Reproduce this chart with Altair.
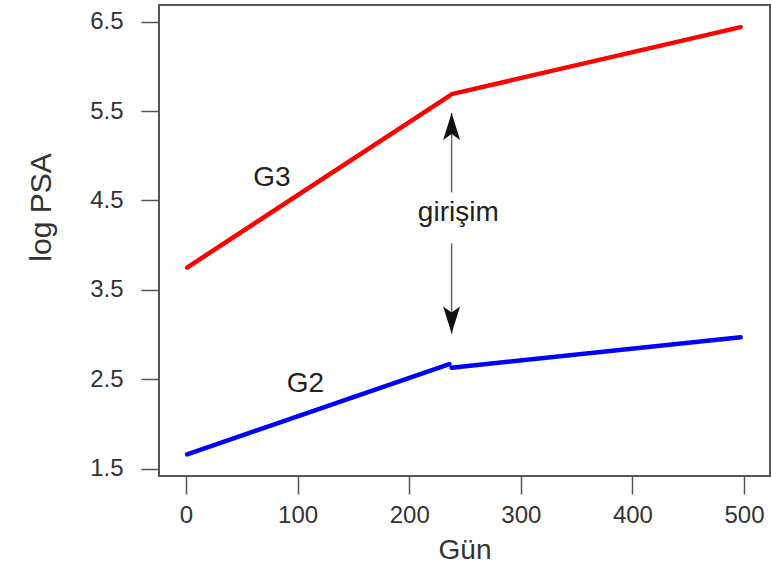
import altair as alt
import pandas as pd

# ---- data ----
groups = ["G3", "G3", "G3", "G3", "G2", "G2", "G2", "G2"]
segments = ["G3a", "G3a", "G3b", "G3b", "G2a", "G2a", "G2b", "G2b"]
days = [1, 236, 238, 497, 1, 236, 238, 497]
log_psa = [3.75, 5.67, 5.69, 6.44, 1.66, 2.67, 2.63, 2.97]

label_text = ["G3", "G2", "girişim"]
label_x = [77, 107, 244]
label_y = [4.75, 2.45, 4.36]

arrow_x = [238, 238]
arrow_base = [4.59, 4.02]
arrow_tip = [5.48, 3.01]
arrow_dir = ["up", "down"]

x_ticks = [0, 100, 200, 300, 400, 500]
y_ticks = [1.5, 2.5, 3.5, 4.5, 5.5, 6.5]

lines_df = pd.DataFrame({"grp": groups, "seg": segments, "day": days, "psa": log_psa})
labels_df = pd.DataFrame({"text": label_text, "x": label_x, "y": label_y})
arrows_df = pd.DataFrame({"x": arrow_x, "y": arrow_base, "y2": arrow_tip, "dir": arrow_dir})

FONT = "Liberation Sans"
xscale = alt.Scale(domain=[-24.2, 523.3], nice=False, zero=False)
yscale = alt.Scale(domain=[1.418, 6.687], nice=False, zero=False)

xaxis = alt.Axis(values=x_ticks, title="Gün", grid=False, domain=False,
                 tickSize=18, tickColor="#555555", tickWidth=1.5,
                 labelFont=FONT, labelFontSize=24, labelColor="#333333",
                 labelPadding=9, titleFont=FONT, titleFontSize=28,
                 titleFontWeight="normal", titleColor="#333333",
                 titleBaseline="middle", titleY=74, format="d")
yaxis = alt.Axis(values=y_ticks, title="log PSA", grid=False, domain=False,
                 tickSize=18, tickColor="#555555", tickWidth=1.5,
                 labelFont=FONT, labelFontSize=24, labelColor="#333333",
                 labelPadding=18, format=".1f",
                 titleFont=FONT, titleFontSize=30, titleFontWeight="normal",
                 titleColor="#333333", titleAngle=270, titleAlign="center",
                 titleBaseline="middle", titleX=-118, titleY=202)

lines = alt.Chart(lines_df).mark_line(strokeWidth=4.5, strokeCap="round").encode(
    x=alt.X("day:Q", scale=xscale, axis=xaxis),
    y=alt.Y("psa:Q", scale=yscale, axis=yaxis),
    color=alt.Color("grp:N", scale=alt.Scale(domain=["G3", "G2"], range=["#ff0000", "#0000ff"]), legend=None),
    detail="seg:N",
)

labels = alt.Chart(labels_df).mark_text(font=FONT, fontSize=28, color="#222222",
                                        baseline="middle", align="center").encode(
    x=alt.X("x:Q", scale=xscale), y=alt.Y("y:Q", scale=yscale), text="text:N")

shafts = alt.Chart(arrows_df).mark_rule(color="#666666", strokeWidth=1.5).encode(
    x=alt.X("x:Q", scale=xscale), y=alt.Y("y:Q", scale=yscale), y2="y2:Q")

up_head = alt.Chart(arrows_df[arrows_df["dir"] == "up"]).mark_point(
    shape="M0,-1L0.5,0.6L0,0.25L-0.5,0.6Z", filled=True, color="#111111",
    size=1140, opacity=1, yOffset=17).encode(
    x=alt.X("x:Q", scale=xscale), y=alt.Y("y2:Q", scale=yscale))

down_head = alt.Chart(arrows_df[arrows_df["dir"] == "down"]).mark_point(
    shape="M0,1L0.5,-0.6L0,-0.25L-0.5,-0.6Z", filled=True, color="#111111",
    size=1140, opacity=1, yOffset=-17).encode(
    x=alt.X("x:Q", scale=xscale), y=alt.Y("y2:Q", scale=yscale))

chart = alt.layer(lines, shafts, up_head, down_head, labels).properties(
    width=611, height=471,
    autosize=alt.AutoSizeParams(type="none"),
    padding={"left": 159, "top": 5, "right": 2, "bottom": 96},
    background="white",
).configure_view(stroke="#555555", strokeWidth=2)

chart.save("out.html", embed_options={"renderer": "svg", "actions": False})
